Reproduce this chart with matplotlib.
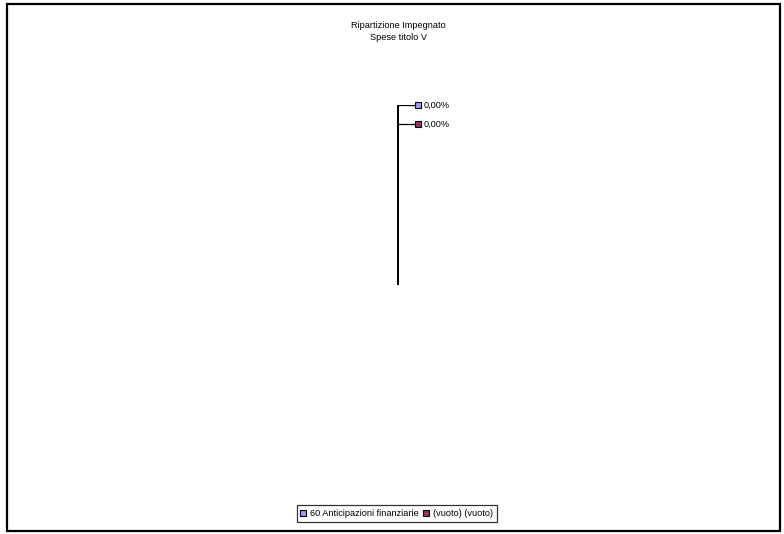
import numpy as np
import matplotlib
matplotlib.use("Agg")
import matplotlib.pyplot as plt
from matplotlib.lines import Line2D
from matplotlib.patches import Rectangle

plt.rcParams['font.family'] = ['Liberation Sans', 'DejaVu Sans']

# data
title_lines = ["Ripartizione Impegnato", "Spese titolo V"]
categories = ["60 Anticipazioni finanziarie", "(vuoto) (vuoto)"]
values = [0.0, 0.0]
colors = ["#9999FF", "#993366"]

W, H = 784, 534
fig = plt.figure(figsize=(W / 100, H / 100), dpi=100)
fig.patch.set_facecolor("white")

# outer chart frame
fig.add_artist(Rectangle((6.5 / W, 3.5 / H), 773 / W, 527 / H, transform=fig.transFigure,
                         fill=False, edgecolor="black", linewidth=1.6))

fig.text(398 / W, 1 - 25 / H, title_lines[0], ha="center", va="center", fontsize=6.6)
fig.text(398 / W, 1 - 38 / H, title_lines[1], ha="center", va="center", fontsize=6.6)

# pie area: center at (398, 285) px, radius 180 px
cx, cy, r = 398, 285, 180
ax = fig.add_axes([(cx - r) / W, 1 - (cy + r) / H, 2 * r / W, 2 * r / H])
ax.set_xlim(-1, 1)
ax.set_ylim(-1, 1)
ax.axis("off")

total = sum(values)
fracs = [v / total if total else 0.0 for v in values]
start = 90.0
bounds = [start]
for f in fracs:
    bounds.append(bounds[-1] - 360 * f)

# slice boundaries (zero-width slices collapse onto one radius)
for a in bounds:
    t = np.deg2rad(a)
    ax.plot([0, np.cos(t)], [0, np.sin(t)], color="black", lw=1.3, solid_capstyle="butt")

# data labels, stacked because the slices overlap
label_y = [1.0, 1 - 19 / r]
for i, (f, c) in enumerate(zip(fracs, colors)):
    mid = np.deg2rad((bounds[i] + bounds[i + 1]) / 2)
    x0 = np.cos(mid) * label_y[i]
    y0 = label_y[i]
    ax.plot([x0, x0 + 17 / r], [y0, y0], color="black", lw=0.9)
    ax.plot([x0 + 20 / r], [y0], marker="s", ms=4.5, mfc=c, mec="black", mew=0.8, clip_on=False)
    ax.text(x0 + 25.5 / r, y0, ("%.2f%%" % (f * 100)).replace(".", ","), ha="left", va="center",
            fontsize=6.6)

handles = [Line2D([], [], ls="none", marker="s", ms=4.5, mfc=c, mec="black", mew=0.8)
           for c in colors]
leg = fig.legend(handles, categories, loc="center", bbox_to_anchor=(397 / W, 1 - 513.5 / H),
                 ncol=2, fontsize=6.6, frameon=True, fancybox=False, handlelength=0.6,
                 handletextpad=0.45, columnspacing=0.5, borderpad=0.4, borderaxespad=0)
leg.get_frame().set_edgecolor("black")
leg.get_frame().set_linewidth(0.9)

fig.savefig("out.png", dpi=100)
